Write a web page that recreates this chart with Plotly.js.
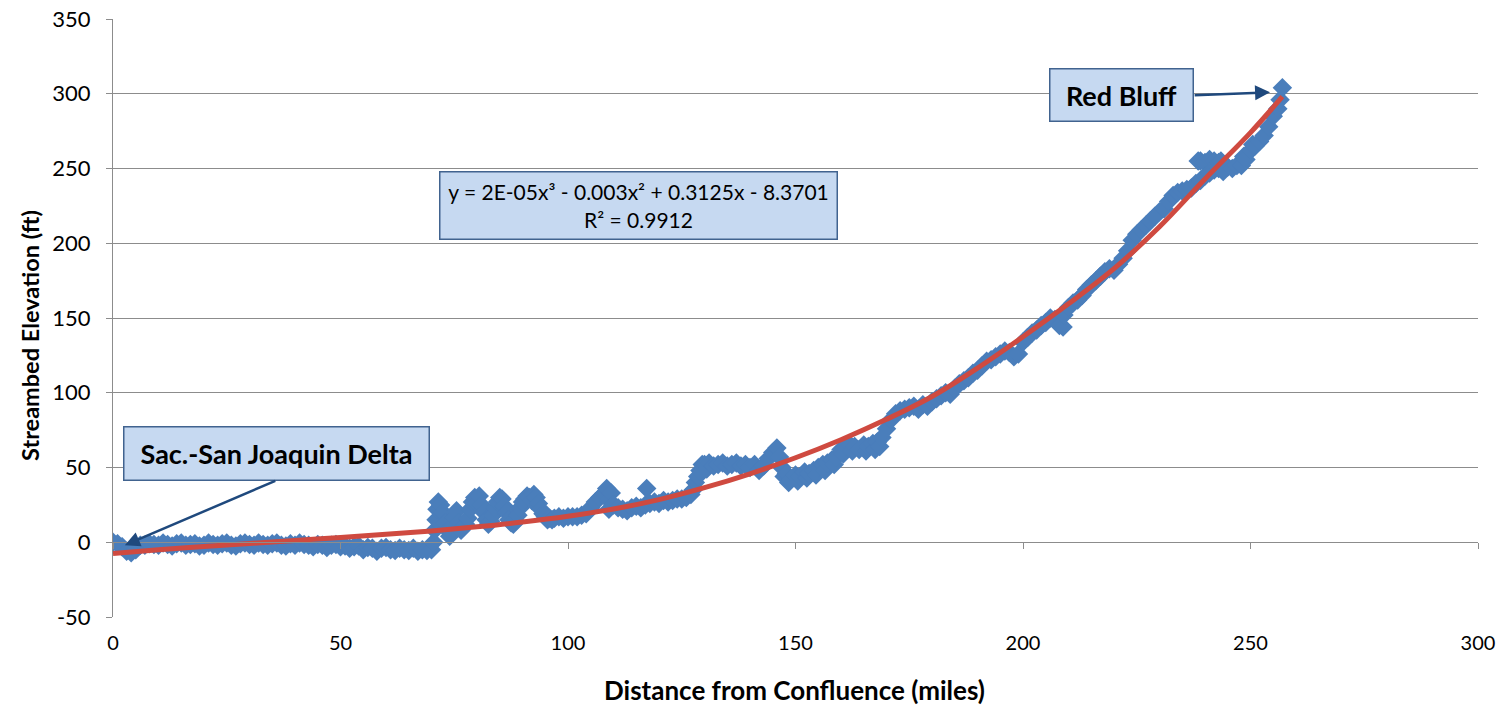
<!DOCTYPE html>
<html>
<head>
<meta charset="utf-8">
<script src="https://cdn.plot.ly/plotly-3.0.1.min.js"></script>
<style>html,body{margin:0;padding:0;background:#fff;}#chart{width:1505px;height:709px;}</style>
</head>
<body>
<div id="chart"></div>
<script>
// Observed streambed points (distance in miles, elevation in ft)
var distMiles = [
0,1,2,3,4,5,6,7,8,9,10,11,12,13,14,15,16,17,18,19,20,21,22,23,24,25,26,27,28,29,30,31,32,33,34,35,36,37,38,39,40,41,42,43,44,45,46,47,48,49,50,51,52,53,54,55,56,57,58,59,60,61,62,63,64,65,66,67,68,69,
70,70.5,70.7,71,71.2,71.5,72,72.5,73,73.5,74,74.5,75,75.5,76,76.5,77,77.5,78,78.5,79,79.5,80,80.5,81,81.5,82,82.5,83,83.5,84,84.5,85,85.5,86,86.5,87,87.5,88,88.5,89,89.5,90,90.5,91,91.5,92,92.5,93,93.5,94,94.5,95,95.5,96,96.5,97,98,99,100,101,102,103,104,105,106,107,108,108.5,109,109,109.5,110,111,112,113,114,115,116,117,117.3,118,119,120,121,122,123,124,125,126,127,127.5,128,128.5,129,129.5,
130,130.5,131,132,133,134,135,136,137,138,139,140,141,142,143,144,145,145.9,146.5,147,147.5,148,148.5,149,150,150.5,151,152,152.5,153,154,154.5,155,156,156.5,157,158,158.5,159,160,160.5,161,162,162.5,163,164,165,165.5,166,167,167.5,168,168.5,169,170,171,172,173,174,175,176,177,178,179,180,181,182,183,184,185,186,187,188,189,190,191,192,193,194,195,196,197,198,199,200,201,202,203,204,205,206,207,208,208.8,209,210,211,212,213,214,215,216,217,218,219,220,221,222,223,224,225,226,227,228,229,230,231,232,233,234,235,236,237,238,238.5,239,239,240,240,241,241,242,242,243,243,243.5,244,245,246,247,248,248.5,249,250,250.5,251,252,253,254,255,256,256.5,257
];
var elevFt = [
0,-1,-3,-6,-7,-5,-2,-2,-1,-1.5,-2,-0.5,-1.5,-2.5,-1,-0.5,-2,-1.5,-1,-2.5,-2,-0.5,-1.5,-2,-1,-0.5,-2,-2.5,-1,-0.5,-1.5,-2,-0.5,-1.5,-2,-1,-0.5,-2,-2.5,-1,-2,-0.5,-1.5,-2,-3,-1.5,-2,-3.5,-2,-1.5,-3,-2.5,-4,-3,-2.5,-5,-3.5,-4,-6,-4,-3.5,-5,-5.5,-4,-5,-5.5,-4,-6,-5,-5.5,
-5,0,8,15,22,27,25,20,13,8,4,10,16,21,13,8,10,12,16,22,27,30,26,31,25,20,15,12,14,18,23,27,30,29,24,20,15,13,12,14,18,23,27,29,31,30,28,32,30,26,22,19,17,15,16,15,16,17,16,17,17,17,18,19,23,27,30,33,36,22,28,33,25,23,22,21,23,24,23,25,36,26,27,26,28,27,28,29,29,30,32,35,40,44,48,52,
52,49,53,51,52,53,51,52,53,51,52,50,52,48,51,56,60,63,57,50,44,46,40,42,45,41,44,47,43,46,48,45,50,52,48,53,55,52,57,62,59,64,65,61,64,62,65,61,64,66,62,67,64,70,76,82,86,88,89,90,91,89,92,91,94,96,98,100,99,103,106,108,110,113,115,118,121,122,124,126,128,127,124,126,134,137,140,142,145,147,150,149,145,144,152,157,160,162,165,169,172,175,178,181,183,182,186,190,195,202,206,209,212,215,218,221,223,228,232,234,235,236,237,240,255,255,242,254,245,256,247,255,249,254,250,255,248,251,250,252,252,258,256,262,266,265,268,272,278,285,290,296,304
];
// Polynomial trend line
var trendX = [0,10,20,30,40,50,60,70,80,90,100,110,120,130,140,150,160,170,180,190,200,210,220,230,240,250,257];
var trendY = [-7.5,-5,-2.8,-0.8,1.2,3.2,5.3,7.6,10.3,13.5,17.4,22.2,28.5,36.5,45.8,56.5,68.6,82.2,97.5,116.5,137.5,159.5,183,211,243,274,298];
var xTicks = [0,50,100,150,200,250,300];
var yTicks = [-50,0,50,100,150,200,250,300,350];

var FONT = 'Lato, "Open Sans", sans-serif';
var grid = '#8c8c8c';

var traces = [
  {x: distMiles, y: elevFt, type: 'scatter', mode: 'markers',
   marker: {symbol: 'diamond', size: 15, color: '#4a7ebb', line: {width: 0}},
   hoverinfo: 'x+y', showlegend: false},
  {x: trendX, y: trendY, type: 'scatter', mode: 'lines',
   line: {color: '#cf4a40', width: 5, shape: 'spline', smoothing: 1},
   showlegend: false}
];

var annBox = {bgcolor: '#c6d9f1', bordercolor: '#41638f', borderwidth: 1.5, showarrow: false};

var layout = {
  width: 1505, height: 709,
  margin: {l: 113, r: 27, t: 19, b: 92},
  paper_bgcolor: '#ffffff', plot_bgcolor: '#ffffff',
  font: {family: FONT, color: '#000000'},
  xaxis: {range: [0, 300], tickvals: xTicks, ticktext: xTicks.map(String),
          showgrid: false, zeroline: false, showline: false, ticks: '',
          ticklabelstandoff: 12, tickfont: {family: FONT, size: 20, color: '#000'}},
  xaxis2: {range: [0, 300], matches: 'x', overlaying: 'x', anchor: 'free', position: 0.125,
           tickvals: xTicks, showticklabels: false, showgrid: false, zeroline: false,
           showline: true, linecolor: grid, linewidth: 1, ticks: 'outside', ticklen: 6, tickcolor: grid},
  yaxis: {range: [-50, 350], tickvals: yTicks, ticktext: yTicks.map(String),
          showgrid: true, gridcolor: grid, gridwidth: 1, zeroline: false,
          showline: true, linecolor: grid, linewidth: 1, ticks: 'outside', ticklen: 6, tickcolor: grid,
          ticklabelstandoff: 11, tickfont: {family: FONT, size: 22, color: '#000'}},
  annotations: [
    {x: 0.4996, y: -0.122, xref: 'paper', yref: 'paper', xanchor: 'center', yanchor: 'middle',
     text: '<b>Distance from Confluence (miles)</b>', showarrow: false,
     font: {family: FONT, size: 26, color: '#000'}},
    {x: -0.0608, y: 0.47, xref: 'paper', yref: 'paper', xanchor: 'center', yanchor: 'middle',
     text: '<b>Streambed Elevation (ft)</b>', textangle: -90, showarrow: false,
     font: {family: FONT, size: 23.5, color: '#000'}},
    Object.assign({x: 36, y: 59.2, xref: 'x', yref: 'y', text: '<b>Sac.-San Joaquin Delta</b>',
      width: 300, height: 48, borderpad: 2, font: {family: FONT, size: 27, color: '#000'}}, annBox),
    Object.assign({x: 221.6, y: 299, xref: 'x', yref: 'y', text: '<b>Red Bluff</b>',
      width: 138, height: 47, borderpad: 2, font: {family: FONT, size: 27, color: '#000'}}, annBox),
    Object.assign({x: 115.5, y: 225, xref: 'x', yref: 'y',
      text: 'y = 2E-05x³ - 0.003x² + 0.3125x - 8.3701<br>R² = 0.9912',
      width: 392, height: 62, borderpad: 2, font: {family: FONT, size: 21, color: '#000'}}, annBox),
    {x: 2.6, y: -2, xref: 'x', yref: 'y', ax: 36, ay: 41.5, axref: 'x', ayref: 'y', text: '',
     showarrow: true, arrowhead: 2, arrowsize: 1.2, arrowwidth: 2.5, arrowcolor: '#1f497d'},
    {x: 254.3, y: 301, xref: 'x', yref: 'y', ax: 237.4, ay: 299, axref: 'x', ayref: 'y', text: '',
     showarrow: true, arrowhead: 2, arrowsize: 1.2, arrowwidth: 2.5, arrowcolor: '#1f497d'}
  ]
};
// dummy trace to activate xaxis2
traces.push({x: [0], y: [null], xaxis: 'x2', yaxis: 'y', type: 'scatter', mode: 'markers', showlegend: false, hoverinfo: 'skip'});

Plotly.newPlot('chart', traces, layout, {displayModeBar: false, staticPlot: true});
</script>
</body>
</html>
